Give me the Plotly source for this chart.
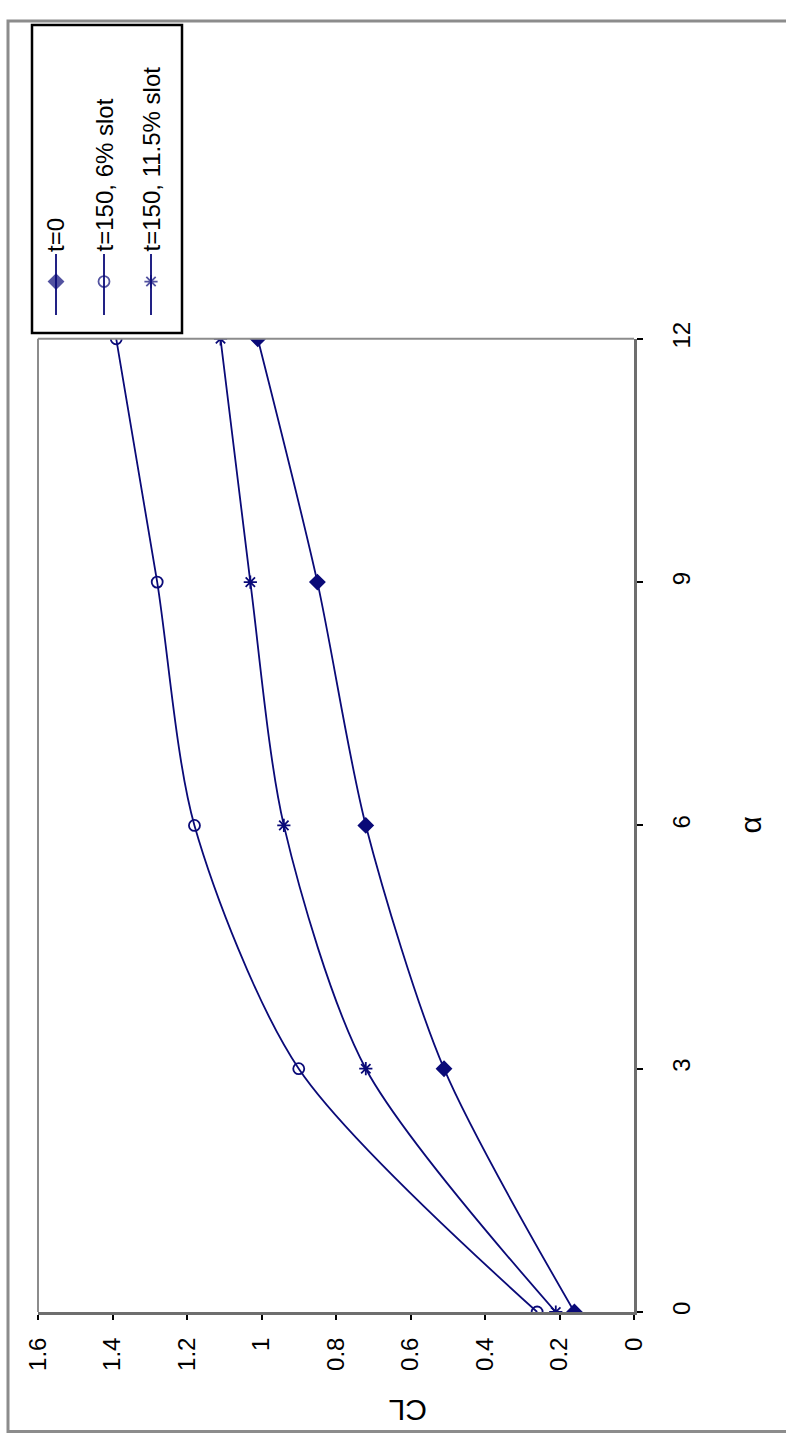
import plotly.graph_objects as go

# ---------------- data ----------------
alpha = [0, 3, 6, 9, 12]
cl_t0 = [0.16, 0.51, 0.72, 0.85, 1.01]
cl_slot6 = [0.26, 0.90, 1.18, 1.28, 1.39]
cl_slot115 = [0.21, 0.72, 0.94, 1.03, 1.11]
series_names = ["t=0", "t=150, 6% slot", "t=150, 11.5% slot"]
series_values = [cl_t0, cl_slot6, cl_slot115]
series_symbols = ["diamond", "circle-open", "asterisk-open"]

cl_tickvals = [0, 0.2, 0.4, 0.6, 0.8, 1.0, 1.2, 1.4, 1.6]
cl_ticktext = ["0", "0.2", "0.4", "0.6", "0.8", "1", "1.2", "1.4", "1.6"]
alpha_tickvals = [0, 3, 6, 9, 12]
alpha_ticktext = ["0", "3", "6", "9", "12"]

# ---------------- layout helpers (pixel -> paper) ----------------
W, H = 786, 1440
PL, PR, PT, PB = 30, 640, 3, 1312          # paper box in pixels
pw, ph = PR - PL, PB - PT


def px(x):
    return (x - PL) / pw


def py(y):
    return (PB - y) / ph


plot_l, plot_r, plot_t, plot_b = 38, 634, 326, 1312
leg_l, leg_r, leg_t, leg_b = 32, 182, 8, 320

LINE = "#0a0a78"
FONT = "Liberation Sans, Arial, sans-serif"

fig = go.Figure()

for name, vals, sym in zip(series_names, series_values, series_symbols):
    fig.add_trace(go.Scatter(
        x=vals, y=alpha, mode="lines+markers", name=name,
        line=dict(color=LINE, width=1.8, shape="spline", smoothing=0.8),
        marker=dict(symbol=sym, size=11, color=LINE,
                    line=dict(color=LINE, width=1.8)),
        xaxis="x", yaxis="y", showlegend=False,
    ))

# legend drawn on its own small axis (rotated like the chart)
leg_cols = [56, 104, 151]
for i, (name, sym) in enumerate(zip(series_names, series_symbols)):
    fig.add_trace(go.Scatter(
        x=[leg_cols[i]] * 3, y=[302, 268, 240], mode="lines+markers",
        line=dict(color=LINE, width=1.8),
        marker=dict(symbol=sym, size=[0, 11, 0], color=LINE,
                    line=dict(color=LINE, width=1.8)),
        xaxis="x2", yaxis="y2", showlegend=False, hoverinfo="skip",
    ))

annotations = []
for i, name in enumerate(series_names):
    annotations.append(dict(
        x=leg_cols[i], y=240, xref="x2", yref="y2", text=name,
        textangle=-90, showarrow=False, xanchor="center", yanchor="bottom",
        font=dict(family=FONT, size=24, color="#000000"),
    ))

annotations.append(dict(
    x=px(408), y=py(1412), xref="paper", yref="paper", text="CL",
    textangle=180, showarrow=False, xanchor="center", yanchor="middle",
    font=dict(family=FONT, size=30, color="#000000"),
))
annotations.append(dict(
    x=px(750), y=py(819), xref="paper", yref="paper", text="α",
    textangle=-90, showarrow=False, xanchor="center", yanchor="middle",
    font=dict(family=FONT, size=30, color="#000000"),
))

shapes = [
    # outer chart border
    dict(type="rect", xref="paper", yref="paper",
         x0=px(8), x1=px(800), y0=py(1433), y1=py(4),
         line=dict(color="#8c8c8c", width=3), layer="below"),
    # plot area border (left and top)
    dict(type="line", xref="x domain", yref="y domain", x0=0, x1=1, y0=1, y1=1,
         line=dict(color="#8c8c8c", width=2)),
    dict(type="line", xref="x domain", yref="y domain", x0=0, x1=0, y0=0, y1=1,
         line=dict(color="#8c8c8c", width=2)),
    # legend box
    dict(type="rect", xref="x2 domain", yref="y2 domain", x0=0, x1=1, y0=0, y1=1,
         line=dict(color="#000000", width=2.5), fillcolor="white", layer="below"),
]

fig.update_layout(
    width=W, height=H,
    margin=dict(l=PL, r=W - PR, t=PT, b=H - PB, pad=0),
    paper_bgcolor="white", plot_bgcolor="white",
    font=dict(family=FONT, color="#000000"),
    xaxis=dict(
        domain=[px(plot_l), px(plot_r)], range=[1.6, 0],
        tickvals=cl_tickvals, ticktext=cl_ticktext, tickangle=-90,
        ticks="outside", ticklen=5, tickwidth=1.5, tickcolor="#000000",
        ticklabelstandoff=8,
        tickfont=dict(family=FONT, size=24, color="#000000"),
        showgrid=False, zeroline=False,
        showline=True, linecolor="#6e6e6e", linewidth=3,
        anchor="y",
    ),
    yaxis=dict(
        domain=[0, py(plot_t)], range=[0, 12], side="right",
        tickvals=alpha_tickvals, ticktext=alpha_ticktext, tickangle=-90,
        ticks="outside", ticklen=6, tickwidth=1.5, tickcolor="#000000",
        ticklabelstandoff=18,
        tickfont=dict(family=FONT, size=24, color="#000000"),
        showgrid=False, zeroline=False,
        showline=True, linecolor="#6e6e6e", linewidth=3,
        anchor="x",
    ),
    xaxis2=dict(domain=[px(leg_l), px(leg_r)], range=[leg_l, leg_r],
                visible=False, anchor="y2", fixedrange=True),
    yaxis2=dict(domain=[py(leg_b), py(leg_t)], range=[leg_b, leg_t],
                visible=False, anchor="x2", fixedrange=True),
    annotations=annotations,
    shapes=shapes,
    showlegend=False,
)

fig.write_html("out.html",
               config={"displayModeBar": False},
               post_script="document.body.style.margin='0';")
